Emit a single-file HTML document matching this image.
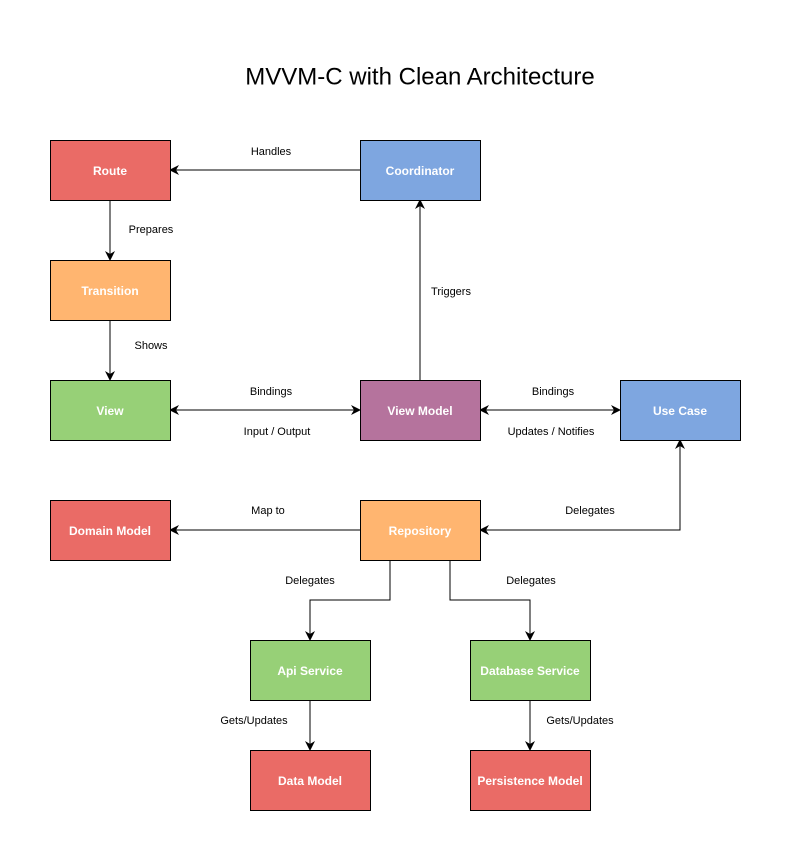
<!DOCTYPE html>
<html><head><meta charset="utf-8"><style>
body{margin:0;background:#fff}
svg{display:block;font-family:"Liberation Sans",Arial,sans-serif}
.b{stroke:#000;stroke-width:1}
.t{fill:#fff;font-weight:bold;font-size:12px;text-anchor:middle;dominant-baseline:central}
.l{fill:#000;font-size:11px;text-anchor:middle;dominant-baseline:central}
.c{stroke:#000;stroke-width:1;fill:none}
</style></head><body>
<svg width="791" height="861" viewBox="0 0 791 861">
<defs><marker id="a" viewBox="0 0 10 10" refX="9" refY="5" markerWidth="10" markerHeight="10" orient="auto-start-reverse" markerUnits="userSpaceOnUse"><path d="M0,0 L10,5 L0,10 L3,5 z" fill="#000"/></marker></defs>
<rect width="791" height="861" fill="#fff"/>
<text x="420" y="77" font-size="24" text-anchor="middle" dominant-baseline="central" fill="#000">MVVM-C with Clean Architecture</text>

<path class="c" d="M360,170 H170" marker-end="url(#a)"/>
<path class="c" d="M110,200 V260" marker-end="url(#a)"/>
<path class="c" d="M110,320 V380" marker-end="url(#a)"/>
<path class="c" d="M170,410 H360" marker-start="url(#a)" marker-end="url(#a)"/>
<path class="c" d="M420,380 V200" marker-end="url(#a)"/>
<path class="c" d="M480,410 H620" marker-start="url(#a)" marker-end="url(#a)"/>
<path class="c" d="M680,440 V530 H480" marker-start="url(#a)" marker-end="url(#a)"/>
<path class="c" d="M360,530 H170" marker-end="url(#a)"/>
<path class="c" d="M390,560 V600 H310 V640" marker-end="url(#a)"/>
<path class="c" d="M450,560 V600 H530 V640" marker-end="url(#a)"/>
<path class="c" d="M310,700 V750" marker-end="url(#a)"/>
<path class="c" d="M530,700 V750" marker-end="url(#a)"/>

<g transform="translate(0,1)">
<text class="l" x="271" y="151">Handles</text>
<text class="l" x="151" y="229">Prepares</text>
<text class="l" x="151" y="345">Shows</text>
<text class="l" x="271" y="391">Bindings</text>
<text class="l" x="277" y="431">Input / Output</text>
<text class="l" x="451" y="291">Triggers</text>
<text class="l" x="553" y="391">Bindings</text>
<text class="l" x="551" y="431">Updates / Notifies</text>
<text class="l" x="590" y="510">Delegates</text>
<text class="l" x="268" y="510">Map to</text>
<text class="l" x="310" y="580">Delegates</text>
<text class="l" x="531" y="580">Delegates</text>
<text class="l" x="254" y="720">Gets/Updates</text>
<text class="l" x="580" y="720">Gets/Updates</text>
</g>

<rect class="b" x="50.5" y="140.5" width="120" height="60" fill="#EA6B66"/><text class="t" x="110" y="170" dy="1">Route</text>
<rect class="b" x="360.5" y="140.5" width="120" height="60" fill="#7EA6E0"/><text class="t" x="420" y="170" dy="1">Coordinator</text>
<rect class="b" x="50.5" y="260.5" width="120" height="60" fill="#FFB570"/><text class="t" x="110" y="290" dy="1">Transition</text>
<rect class="b" x="50.5" y="380.5" width="120" height="60" fill="#97D077"/><text class="t" x="110" y="410" dy="1">View</text>
<rect class="b" x="360.5" y="380.5" width="120" height="60" fill="#B5739D"/><text class="t" x="420" y="410" dy="1">View Model</text>
<rect class="b" x="620.5" y="380.5" width="120" height="60" fill="#7EA6E0"/><text class="t" x="680" y="410" dy="1">Use Case</text>
<rect class="b" x="50.5" y="500.5" width="120" height="60" fill="#EA6B66"/><text class="t" x="110" y="530" dy="1">Domain Model</text>
<rect class="b" x="360.5" y="500.5" width="120" height="60" fill="#FFB570"/><text class="t" x="420" y="530" dy="1">Repository</text>
<rect class="b" x="250.5" y="640.5" width="120" height="60" fill="#97D077"/><text class="t" x="310" y="670" dy="1">Api Service</text>
<rect class="b" x="470.5" y="640.5" width="120" height="60" fill="#97D077"/><text class="t" x="530" y="670" dy="1">Database Service</text>
<rect class="b" x="250.5" y="750.5" width="120" height="60" fill="#EA6B66"/><text class="t" x="310" y="780" dy="1">Data Model</text>
<rect class="b" x="470.5" y="750.5" width="120" height="60" fill="#EA6B66"/><text class="t" x="530" y="780" dy="1">Persistence Model</text>
</svg>
</body></html>
